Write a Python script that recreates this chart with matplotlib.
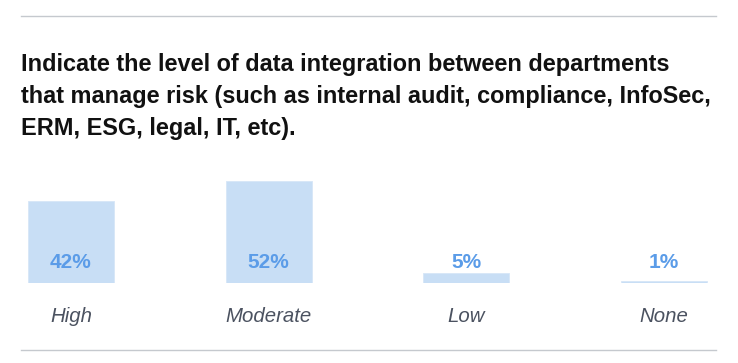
import matplotlib
matplotlib.use("Agg")
from matplotlib import pyplot as plt
from matplotlib.lines import Line2D

# data
categories = ["High", "Moderate", "Low", "None"]
values = [42, 52, 5, 1]
value_labels = ["42%", "52%", "5%", "1%"]

title = ("Indicate the level of data integration between departments\n"
         "that manage risk (such as internal audit, compliance, InfoSec,\n"
         "ERM, ESG, legal, IT, etc).")

plt.rcParams['font.family'] = ['Liberation Sans', 'DejaVu Sans']

W, H = 738, 363
fig = plt.figure(figsize=(W / 100, H / 100), dpi=100)
fig.patch.set_facecolor('white')

# axes: baseline at pixel 283 from top, top at 150
base_px, top_px = 283, 150
px_per_pct = 1.96
ax = fig.add_axes([0, (H - base_px) / H, 1, (base_px - top_px) / H])
step = 197.7
x0 = 71
ax.set_xlim(-x0 / step, (W - x0) / step)
ax.set_ylim(0, (base_px - top_px) / px_per_pct)

xs = list(range(len(categories)))
ax.bar(xs, values, width=86 / step, color='#c8def5', edgecolor='#d6e6f7', linewidth=0.6)

for x, lab in zip(xs, value_labels):
    ax.text(x, 20 / px_per_pct, lab, ha='center', va='center', fontsize=15,
            fontweight='bold', color='#5b9ce8')

ax.set_xticks(xs, categories, fontsize=14.7, style='italic', color='#4b5260')
ax.tick_params(axis='x', length=0, pad=17.4)
ax.set_yticks([])
for s in ax.spines.values():
    s.set_visible(False)

# title and rules
fig.text(21 / W, 1 - 53 / H, title, ha='left', va='top', fontsize=16.9,
         fontweight='bold', color='#111111', linespacing=1.5)
fig.add_artist(Line2D([21 / W, 716 / W], [1 - 16 / H, 1 - 16 / H], color='#c5c9ce', lw=1))
fig.add_artist(Line2D([21 / W, 716 / W], [1 - 350 / H, 1 - 350 / H], color='#c5c9ce', lw=1))

fig.savefig("out.png", dpi=100)
